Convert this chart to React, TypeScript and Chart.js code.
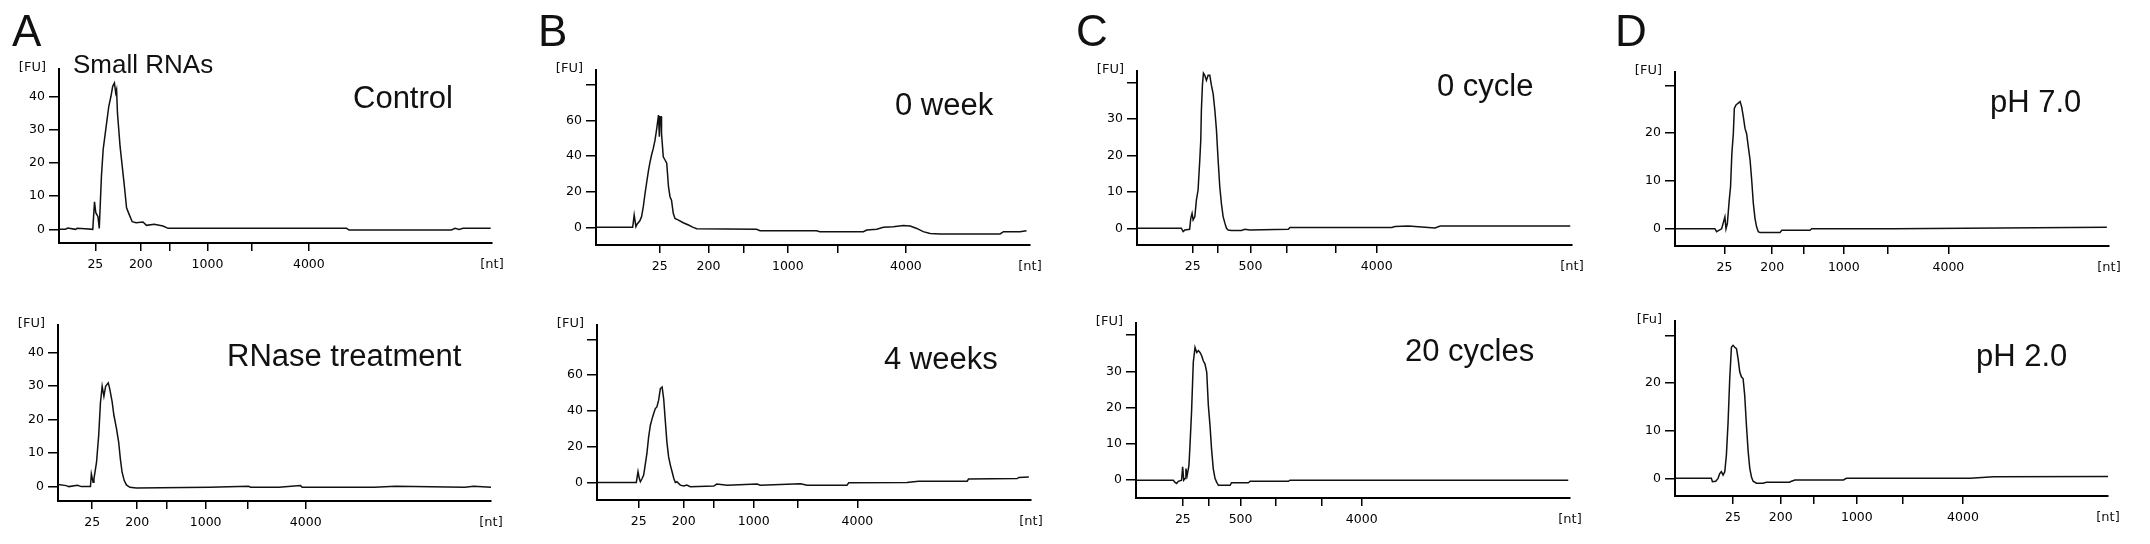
import { useEffect, useRef } from "react"
import { Chart, registerables } from "chart.js"

Chart.register(...registerables)

// x positions are migration positions, 0-100 along each x axis
// ladder tick positions and labels
const ladderLabels = ["25", "200", "", "1000", "", "4000"]
const ladderLabelsC = ["25", "", "500", "", "", "4000"]

const controlTicks = [8.4, 18.9, 25.6, 34.3, 44.5, 57.7]
const rnaseTicks = [7.9, 18.3, 25.2, 34.1, 43.9, 57.2]
const week0Ticks = [14.7, 25.9, 34.0, 44.2, 55.7, 71.4]
const week4Ticks = [9.6, 20.0, 26.9, 36.1, 46.2, 60.0]
const cycle0Ticks = [12.8, 18.6, 26.1, 34.5, 45.6, 55.1]
const cycle20Ticks = [10.8, 16.7, 24.1, 32.2, 42.8, 52.0]
const ph7Ticks = [11.4, 22.4, 29.7, 38.9, 49.1, 63.0]
const ph2Ticks = [13.4, 24.4, 32.1, 42.0, 52.7, 66.5]

// FU axis ticks
const fuTicksA = [0, 10, 20, 30, 40]
const fuTicksB = [0, 20, 40, 60, 80]
const fuTicksC = [0, 10, 20, 30, 40]
const fuTicksD = [0, 10, 20, 30]
const fuShownA = [0, 10, 20, 30, 40]
const fuShownB = [0, 20, 40, 60]
const fuShownC = [0, 10, 20, 30]
const fuShownD = [0, 10, 20]

// traces
const controlX = [0, 1.5, 2.0, 3.8, 4.2, 6.0, 7.8, 8.2, 8.5, 9.0, 9.3, 9.8, 10.2, 10.6, 11.0, 11.5, 12.0, 12.4, 12.8, 13.1, 13.3, 13.5, 13.8, 14.1, 14.6, 15.1, 15.6, 16.2, 16.9, 17.8, 19.4, 20.2, 22.0, 24.0, 25.2, 66.4, 67.0, 67.9, 90.6, 91.5, 92.4, 93.3, 99.7]
const controlFU = [0, 0, 0.4, 0, 0.3, 0.2, 0, 8.3, 5.0, 3.8, 0.3, 16, 24, 28, 32, 37, 40, 43, 44, 41, 42, 35, 30, 25, 19, 13, 6.5, 4.5, 2.3, 2.0, 2.2, 1.2, 1.5, 1.0, 0.3, 0.3, -0.2, -0.2, -0.2, 0.3, 0, 0.3, 0.3]

const rnaseX = [0, 1.9, 2.5, 4.5, 5.4, 7.5, 7.7, 8.1, 8.3, 8.9, 9.4, 9.8, 10.2, 10.6, 11.0, 11.6, 11.9, 12.5, 12.9, 13.5, 14.0, 14.4, 14.8, 15.3, 15.8, 16.6, 18.1, 35, 44, 44.5, 51, 56.0, 56.4, 73, 78, 94, 96, 100]
const rnaseFU = [0.6, 0.3, 0.0, 0.4, 0, 0, 3.8, 1.3, 2.3, 7.3, 15.4, 25, 30, 27, 30, 31, 29.5, 25.4, 21.4, 17.4, 13.4, 8.3, 4.3, 1.8, 0.5, -0.2, -0.4, -0.2, 0.1, -0.2, -0.2, 0.3, -0.2, -0.2, 0.1, -0.2, 0.1, -0.2]

const week0X = [0, 8.45, 8.8, 9.2, 9.5, 10.1, 10.5, 10.9, 11.3, 11.7, 12.1, 12.4, 12.8, 13.2, 13.6, 14.0, 14.4, 14.6, 14.75, 15.0, 15.1, 15.5, 15.9, 16.3, 16.7, 17.05, 17.4, 17.8, 18.2, 19.0, 20.1, 21.3, 22.4, 23.2, 37.0, 37.8, 50.8, 51.6, 61.6, 62.4, 64.7, 66.2, 68.5, 70.8, 72.4, 73.9, 75.4, 77.0, 79.3, 93.1, 93.9, 97.7, 99.2]
const week0FU = [0, 0, 6.9, 0.4, 1.9, 3.7, 6, 11.6, 19, 25.6, 32, 36, 40.6, 44.3, 49, 55.5, 63, 50.8, 62, 62, 52.7, 39.6, 37.8, 36, 22.8, 17.2, 15.3, 7.9, 5, 4.1, 2.6, 1.3, 0, -0.75, -1.1, -1.9, -1.9, -2.4, -2.4, -1.5, -1.1, 0, 0.4, 1.1, 0.8, -0.6, -2.4, -3.4, -3.7, -3.7, -2.4, -2.4, -1.9]

const week4X = [0, 9.06, 9.45, 9.75, 10.0, 10.4, 10.75, 11.1, 11.5, 11.9, 12.3, 12.7, 13.06, 13.44, 13.8, 14.2, 14.6, 15.0, 15.36, 15.7, 16.1, 16.5, 16.9, 17.3, 17.7, 18.05, 18.4, 19.2, 20.0, 20.7, 21.5, 26.9, 27.6, 30.0, 36.9, 37.6, 46.9, 48.4, 57.6, 58.0, 71.4, 73.0, 74.1, 85.3, 85.6, 96.8, 97.2, 99.5]
const week4FU = [0, 0, 6, 2.2, 0.4, 2.2, 4.1, 9.7, 16.2, 25.5, 32, 35.7, 38.5, 41.3, 42.2, 46, 52.5, 53.4, 46.9, 35.7, 22.7, 14.3, 9.7, 6, 2.2, 0, 0.4, -1.5, -2, -1.5, -2.4, -2, -0.9, -1.5, -0.9, -1.5, -0.7, -1.5, -1.5, -0.2, 0, 0.4, 0.7, 0.7, 1.9, 2.2, 2.8, 3]

const cycle0X = [0, 10.2, 10.6, 11.0, 12.1, 12.36, 12.66, 12.9, 13.3, 13.66, 14.04, 14.43, 14.66, 14.8, 15.04, 15.27, 15.58, 15.96, 16.35, 16.73, 17.1, 17.5, 17.9, 18.27, 18.65, 19.03, 19.4, 19.8, 20.2, 20.57, 20.95, 21.7, 24.0, 24.8, 25.9, 34.8, 35.15, 58.6, 59.3, 62.4, 66.2, 68.5, 69.7, 99.6]
const cycle0FU = [0, 0, -0.9, -0.5, -0.3, 2.7, 4.1, 2.3, 3.2, 7.8, 10.5, 18.7, 24.2, 32.4, 39.3, 42.6, 42, 40.6, 42, 42, 39.3, 37, 32.4, 26.9, 18.7, 11.4, 6.8, 3.2, 1.4, 0, -0.5, -0.6, -0.6, -0.3, -0.5, -0.3, 0.2, 0.2, 0.5, 0.6, 0.3, 0.1, 0.6, 0.6]

const cycle20X = [0, 8.6, 9.0, 9.37, 9.75, 10.5, 10.75, 11.0, 11.3, 11.5, 11.8, 12.2, 12.44, 12.8, 13.2, 13.6, 14.0, 14.36, 14.75, 15.13, 15.5, 15.9, 16.3, 16.67, 17.05, 17.4, 17.8, 18.2, 18.6, 19.0, 21.7, 22.0, 25.9, 26.3, 35.1, 35.5, 99.6]
const cycle20FU = [0, 0, -0.6, -0.9, -0.3, 0, 3.7, 0, 0.5, 3.2, 1.4, 4.1, 9.6, 18.8, 32.5, 36.6, 35.2, 35.7, 35.2, 34.3, 32.9, 32, 29.7, 20.6, 15.1, 8.7, 3.2, 0.5, -0.6, -1.4, -1.4, -0.7, -0.7, -0.3, -0.3, 0, 0]

const ph7X = [0, 9.2, 9.6, 10.0, 10.75, 11.5, 11.75, 12.06, 12.5, 12.8, 13.1, 13.44, 13.67, 14.06, 14.44, 15.0, 15.36, 15.75, 16.13, 16.5, 16.9, 17.3, 17.67, 18.05, 18.43, 18.8, 19.2, 19.6, 24.2, 24.6, 31.1, 31.5, 50.3, 99.5]
const ph7FU = [0, 0, -0.6, -0.4, 0, 2.5, 0, 1.1, 6, 8.8, 15.7, 19.9, 25.2, 25.9, 26.2, 26.6, 25.5, 23.4, 21, 19.9, 17.1, 14.4, 10.2, 5.3, 2.2, 0.4, -0.6, -0.8, -0.8, -0.3, -0.3, 0, 0, 0.3]

const ph2X = [0, 8.4, 8.64, 9.4, 9.95, 10.33, 10.7, 11.1, 11.5, 11.87, 12.26, 12.64, 13.03, 13.4, 13.8, 14.2, 14.57, 14.96, 15.34, 15.73, 16.1, 16.5, 16.9, 17.27, 17.66, 18.04, 18.8, 20.35, 21.1, 26.5, 26.9, 27.7, 38.9, 39.6, 68.2, 73.55, 100]
const ph2FU = [0, 0, -0.7, -0.6, 0, 1.0, 1.4, 0.7, 1.4, 4.9, 11.8, 20.9, 27.5, 27.9, 27.5, 27.2, 25.1, 22.3, 21.3, 20.9, 17.4, 11.1, 5.6, 2.1, 0.3, -0.6, -1.0, -1.0, -0.8, -0.8, -0.6, -0.35, -0.35, 0, 0, 0.35, 0.4]

type Rect = { left: number; top: number; right: number; bottom: number }
type Note = { text: string; x: number; y: number; size: number }

type PanelProps = {
  rect: Rect
  xs: number[]
  ys: number[]
  ticks: number[]
  tickLabels: string[]
  yTicks: number[]
  yShown: number[]
  yMin: number
  yMax: number
  yUnit?: string
  notes: Note[]
}

const PAD_L = 75
const PAD_T = 70
const PAD_R = 45
const PAD_B = 40
const Y_W = 45
const X_H = 30

const textPlugin = {
  id: "panelText",
  afterDraw(chart: any, _args: any, opts: any) {
    const { ctx, chartArea } = chart
    ctx.save()
    ctx.fillStyle = "#111"
    ctx.textAlign = "left"
    ctx.textBaseline = "alphabetic"
    for (const n of opts.notes as Note[]) {
      ctx.font = `${n.size}px "Liberation Sans", Arial, sans-serif`
      ctx.fillText(n.text, n.x - opts.ox, n.y - opts.oy)
    }
    ctx.font = '13px "DejaVu Sans", sans-serif'
    ctx.fillStyle = "#111"
    ctx.textBaseline = "middle"
    ctx.textAlign = "right"
    ctx.fillText(opts.yUnit, chartArea.left - 13, chartArea.top - 1)
    ctx.textAlign = "center"
    ctx.fillText("[nt]", chartArea.right, chartArea.bottom + 22)
    ctx.restore()
  },
}

function Electropherogram(props: PanelProps) {
  const { rect, xs, ys, ticks, tickLabels, yTicks, yShown, yMin, yMax, notes } = props
  const yUnit = props.yUnit ?? "[FU]"
  const chartRef = useRef<HTMLCanvasElement>(null)
  const chartInstance = useRef<Chart | null>(null)

  const w = rect.right - rect.left + PAD_L + PAD_R
  const h = rect.bottom - rect.top + PAD_T + PAD_B
  const ox = rect.left - PAD_L
  const oy = rect.top - PAD_T

  useEffect(() => {
    if (!chartRef.current) return
    if (chartInstance.current) chartInstance.current.destroy()
    const ctx = chartRef.current.getContext("2d")
    if (!ctx) return

    const tickFont = { family: "DejaVu Sans", size: 12.5 }

    chartInstance.current = new Chart(ctx, {
      type: "line",
      data: {
        datasets: [
          {
            data: xs.map((x, i) => ({ x, y: ys[i] })),
            borderColor: "#111",
            borderWidth: 1.5,
            pointRadius: 0,
            tension: 0,
            fill: false,
          },
        ],
      },
      options: {
        responsive: false,
        animation: false,
        devicePixelRatio: 1,
        layout: { padding: { left: PAD_L - Y_W, top: PAD_T, right: PAD_R, bottom: PAD_B - X_H } },
        plugins: {
          legend: { display: false },
          tooltip: { enabled: false },
          // @ts-ignore
          panelText: { notes, ox, oy, yUnit },
        },
        scales: {
          x: {
            type: "linear",
            min: 0,
            max: 100,
            afterBuildTicks: (scale: any) => {
              scale.ticks = ticks.map((v) => ({ value: v }))
            },
            afterFit: (scale: any) => {
              scale.height = X_H
            },
            grid: { display: true, drawOnChartArea: false, drawTicks: true, tickLength: 8, color: "#000", lineWidth: 1.5 },
            border: { display: true, color: "#000", width: 2 },
            ticks: {
              autoSkip: false,
              maxRotation: 0,
              padding: 6,
              color: "#000",
              font: tickFont,
              callback: (_v: any, i: number) => tickLabels[i],
            },
          },
          y: {
            type: "linear",
            min: yMin,
            max: yMax,
            afterBuildTicks: (scale: any) => {
              scale.ticks = yTicks.map((v) => ({ value: v }))
            },
            afterFit: (scale: any) => {
              scale.width = Y_W
            },
            grid: { display: true, drawOnChartArea: false, drawTicks: true, tickLength: 10, color: "#000", lineWidth: 1.5 },
            border: { display: true, color: "#000", width: 2 },
            ticks: {
              padding: 4,
              color: "#000",
              font: tickFont,
              callback: (v: any) => (yShown.includes(v) ? String(v) : ""),
            },
          },
        },
      },
      plugins: [textPlugin],
    })

    return () => {
      if (chartInstance.current) {
        chartInstance.current.destroy()
        chartInstance.current = null
      }
    }
  }, [])

  return (
    <canvas
      ref={chartRef}
      width={w}
      height={h}
      style={{ position: "absolute", left: ox, top: oy, width: w, height: h }}
    />
  )
}

export default function App() {
  return (
    <div
      style={{
        position: "absolute",
        left: 0,
        top: 0,
        width: 2150,
        height: 544,
        overflow: "hidden",
        background: "#fff",
      }}
    >
      <Electropherogram
        rect={{ left: 59, top: 69, right: 492, bottom: 243 }}
        xs={controlX} ys={controlFU}
        ticks={controlTicks} tickLabels={ladderLabels}
        yTicks={fuTicksA} yShown={fuShownA} yMin={-4.1} yMax={48.2}
        notes={[
          { text: "A", x: 12, y: 46, size: 44 },
          { text: "Small RNAs", x: 73, y: 73, size: 26 },
          { text: "Control", x: 353, y: 108, size: 31 },
        ]}
      />
      <Electropherogram
        rect={{ left: 58, top: 325, right: 491, bottom: 501 }}
        xs={rnaseX} ys={rnaseFU}
        ticks={rnaseTicks} tickLabels={ladderLabels}
        yTicks={fuTicksA} yShown={fuShownA} yMin={-4.3} yMax={48.3}
        notes={[{ text: "RNase treatment", x: 227, y: 366, size: 31 }]}
      />
      <Electropherogram
        rect={{ left: 596, top: 70, right: 1030, bottom: 245 }}
        xs={week0X} ys={week0FU}
        ticks={week0Ticks} tickLabels={ladderLabels}
        yTicks={fuTicksB} yShown={fuShownB} yMin={-9.9} yMax={88.3}
        notes={[
          { text: "B", x: 538, y: 46, size: 44 },
          { text: "0 week", x: 895, y: 115, size: 31 },
        ]}
      />
      <Electropherogram
        rect={{ left: 597, top: 325, right: 1031, bottom: 500 }}
        xs={week4X} ys={week4FU}
        ticks={week4Ticks} tickLabels={ladderLabels}
        yTicks={fuTicksB} yShown={fuShownB} yMin={-9.8} yMax={88}
        notes={[{ text: "4 weeks", x: 884, y: 369, size: 31 }]}
      />
      <Electropherogram
        rect={{ left: 1137, top: 71, right: 1572, bottom: 245 }}
        xs={cycle0X} ys={cycle0FU}
        ticks={cycle0Ticks} tickLabels={ladderLabelsC}
        yTicks={fuTicksC} yShown={fuShownC} yMin={-4.6} yMax={43.2}
        notes={[
          { text: "C", x: 1076, y: 46, size: 44 },
          { text: "0 cycle", x: 1437, y: 96, size: 31 },
        ]}
      />
      <Electropherogram
        rect={{ left: 1136, top: 323, right: 1570, bottom: 498 }}
        xs={cycle20X} ys={cycle20FU}
        ticks={cycle20Ticks} tickLabels={ladderLabelsC}
        yTicks={fuTicksC} yShown={fuShownC} yMin={-4.9} yMax={43.3}
        notes={[{ text: "20 cycles", x: 1405, y: 361, size: 31 }]}
      />
      <Electropherogram
        rect={{ left: 1675, top: 72, right: 2109, bottom: 246 }}
        xs={ph7X} ys={ph7FU}
        ticks={ph7Ticks} tickLabels={ladderLabels}
        yTicks={fuTicksD} yShown={fuShownD} yMin={-3.6} yMax={32.8}
        notes={[
          { text: "D", x: 1615, y: 46, size: 44 },
          { text: "pH 7.0", x: 1990, y: 112, size: 31 },
        ]}
      />
      <Electropherogram
        rect={{ left: 1675, top: 321, right: 2108, bottom: 496 }}
        xs={ph2X} ys={ph2FU}
        ticks={ph2Ticks} tickLabels={ladderLabels}
        yTicks={fuTicksD} yShown={fuShownD} yMin={-3.7} yMax={33}
        yUnit="[Fu]"
        notes={[{ text: "pH 2.0", x: 1976, y: 366, size: 31 }]}
      />
    </div>
  )
}
